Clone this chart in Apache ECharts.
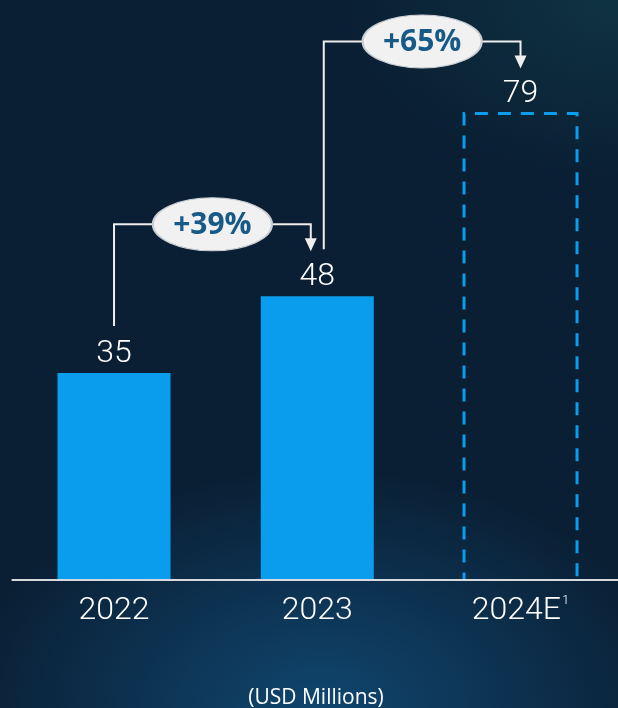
<!DOCTYPE html>
<html>
<head>
<meta charset="utf-8">
<title>Revenue (USD Millions)</title>
<script src="https://cdn.jsdelivr.net/npm/echarts@6/dist/echarts.min.js"></script>
<style>
  html, body { margin: 0; padding: 0; }
  body {
    width: 618px; height: 708px; overflow: hidden;
    background:
      radial-gradient(ellipse 360px 240px at 52% 100%, rgba(16, 72, 114, 0.95) 0%, rgba(16, 72, 114, 0) 100%),
      radial-gradient(ellipse 280px 180px at 100% 0%, rgba(16, 56, 68, 0.8) 0%, rgba(16, 56, 68, 0) 100%),
      #0a1f34;
  }
  /* the canvas runs a few pixels past the right edge so the axis line bleeds off */
  #chart { width: 624px; height: 708px; }
</style>
</head>
<body>
<div id="chart"></div>
<script>
// Yearly values; the last year is an estimate
const categories = ['2022', '2023', '2024E'];
const values = [35, 48, 79];
const estimateIndex = 2;

// Growth callouts: from category index, to category index, label
const growthFrom = [0, 1];
const growthTo = [1, 2];
const growthLabels = ['+39%', '+65%'];

const unitLabel = '(USD Millions)';

const BAR_BLUE = '#0a9ded';
const LINE_WHITE = '#eeeeee';
const BAR_SHARE = 0.556;

const chart = echarts.init(document.getElementById('chart'), null, { renderer: 'canvas' });

const barData = values.map((v, i) =>
  i === estimateIndex
    ? { value: v, itemStyle: { color: 'rgba(0,0,0,0)' } }
    : v
);

const growthData = growthFrom.map((f, i) => [f, growthTo[i], values[f], values[growthTo[i]]]);

function renderGrowth(params, api) {
  const fi = api.value(0), ti = api.value(1);
  const from = api.coord([fi, api.value(2)]);
  const to = api.coord([ti, api.value(3)]);
  // keep an incoming arrow and an outgoing line apart on a shared bar
  const startShift = growthTo.indexOf(fi) >= 0 ? 6.5 : 0;
  const endShift = growthFrom.indexOf(ti) >= 0 ? -6.5 : 0;
  const x0 = from[0] + startShift;
  const x1 = to[0] + endShift;
  const y0 = from[1] - 47;
  const elbow = to[1] - 72;
  const tip = to[1] - 45;
  const head = 13;
  const cx = (x0 + x1) / 2;
  const rx = 59.5, ry = 26.5;
  return {
    type: 'group',
    children: [
      {
        type: 'polyline',
        shape: { points: [[x0, y0], [x0, elbow], [x1, elbow], [x1, tip - head + 1]] },
        style: { stroke: LINE_WHITE, lineWidth: 2, fill: null }
      },
      {
        type: 'polygon',
        shape: { points: [[x1 - 6, tip - head], [x1 + 6, tip - head], [x1, tip]] },
        style: { fill: LINE_WHITE }
      },
      {
        type: 'circle',
        x: cx, y: elbow, scaleX: rx / ry,
        shape: { cx: 0, cy: 0, r: ry },
        style: { fill: '#f1f1f1', stroke: '#c9ced3', lineWidth: 1, strokeNoScale: true }
      },
      {
        type: 'text',
        x: cx, y: elbow + 1,
        style: {
          text: growthLabels[params.dataIndex],
          fill: '#175a87',
          font: 'bold 30px "Open Sans", "Noto Sans", sans-serif',
          align: 'center',
          verticalAlign: 'middle'
        }
      }
    ]
  };
}

function renderEstimate(params, api) {
  const idx = api.value(0);
  const base = api.coord([idx, 0]);
  const top = api.coord([idx, api.value(1)]);
  const w = api.size([1, 0])[0] * BAR_SHARE;
  const l = base[0] - w / 2, r = base[0] + w / 2;
  return {
    type: 'polyline',
    shape: { points: [[l, base[1]], [l, top[1]], [r, top[1]], [r, base[1]]] },
    style: { stroke: BAR_BLUE, lineWidth: 3, fill: null, lineDash: [13, 10], lineDashOffset: 6 }
  };
}

chart.setOption({
  backgroundColor: 'transparent',
  animation: false,
  grid: { left: 12.4, right: 1.85, top: 48.5, bottom: 128.5 },
  xAxis: {
    type: 'category',
    data: categories,
    z: 5,
    axisLine: { show: true, lineStyle: { color: '#d6dade', width: 2 } },
    axisTick: { show: false },
    axisLabel: {
      interval: 0,
      color: '#ffffff',
      fontSize: 32,
      fontWeight: 300,
      fontFamily: 'Roboto',
      margin: 15,
      formatter: function (v) {
        return v.endsWith('E') ? v + '{sup|1}' : v;
      },
      rich: {
        sup: { fontSize: 13, fontWeight: 300, fontFamily: 'Roboto', color: '#ffffff', verticalAlign: 'top', padding: [0, 0, 10, 1] }
      }
    }
  },
  yAxis: {
    type: 'value',
    min: 0,
    max: 90,
    show: false,
    splitLine: { show: false }
  },
  graphic: [{
    type: 'text',
    x: 316,
    y: 688,
    style: {
      text: unitLabel,
      fill: '#ffffff',
      font: '21px "Open Sans", sans-serif',
      align: 'center'
    }
  }],
  series: [
    {
      type: 'bar',
      data: barData,
      barWidth: (BAR_SHARE * 100) + '%',
      itemStyle: { color: BAR_BLUE },
      label: {
        show: true,
        position: 'top',
        distance: 3,
        color: '#ffffff',
        fontSize: 32,
        fontWeight: 300,
        fontFamily: 'Roboto'
      }
    },
    {
      type: 'custom',
      data: [[estimateIndex, values[estimateIndex]]],
      renderItem: renderEstimate,
      clip: false,
      z: 3
    },
    {
      type: 'custom',
      data: growthData,
      renderItem: renderGrowth,
      clip: false,
      z: 4
    }
  ]
});
</script>
</body>
</html>
